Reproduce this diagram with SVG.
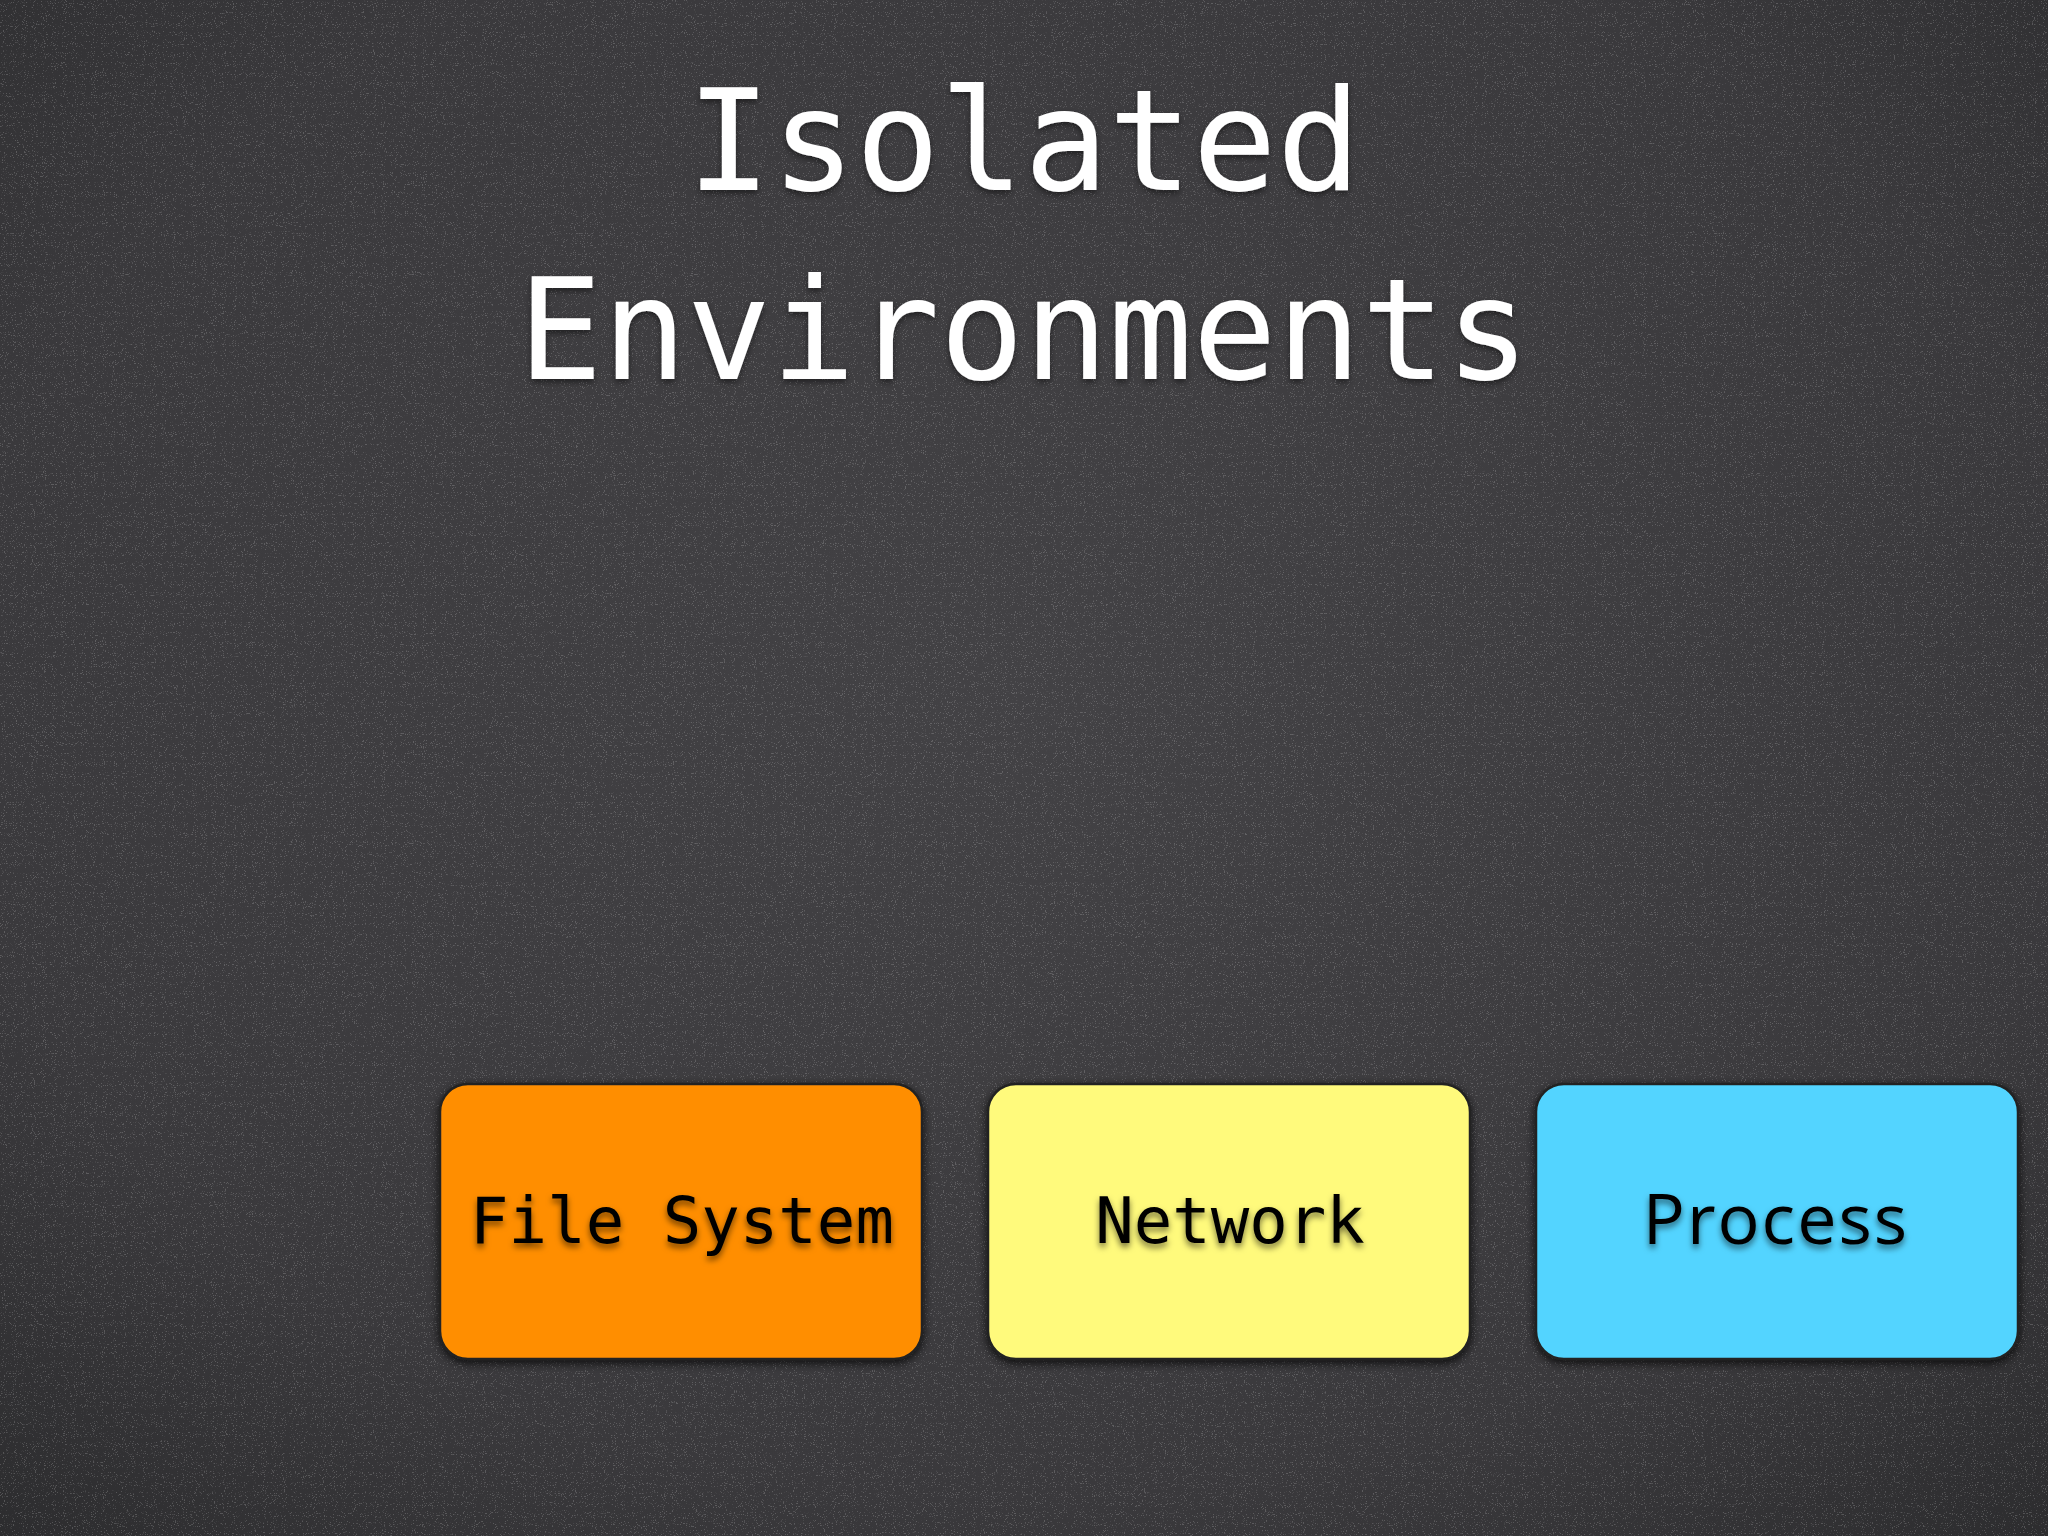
<svg xmlns="http://www.w3.org/2000/svg" width="2048" height="1536" viewBox="0 0 2048 1536">
  <defs>
    <radialGradient id="bg" cx="50%" cy="45%" r="75%">
      <stop offset="0" stop-color="#434245"/>
      <stop offset="0.7" stop-color="#3a393c"/>
      <stop offset="1" stop-color="#2c2c2e"/>
    </radialGradient>
    <filter id="grain" x="0" y="0" width="100%" height="100%">
      <feTurbulence type="fractalNoise" baseFrequency="0.9" numOctaves="2" seed="7" result="n"/>
      <feColorMatrix in="n" type="matrix" values="0 0 0 0 1  0 0 0 0 1  0 0 0 0 1  0 0 0 9 -5.6"/>
    </filter>
    <filter id="boxShadow" x="-10%" y="-10%" width="120%" height="125%">
      <feDropShadow dx="0" dy="3" stdDeviation="5" flood-color="#000" flood-opacity="0.8"/>
    </filter>
    <filter id="textShadow" x="-5%" y="-20%" width="110%" height="150%">
      <feDropShadow dx="0" dy="4" stdDeviation="3" flood-color="#000" flood-opacity="0.55"/>
    </filter>
    <filter id="titleShadow" x="-5%" y="-20%" width="110%" height="150%">
      <feDropShadow dx="0" dy="3" stdDeviation="3" flood-color="#000" flood-opacity="0.5"/>
    </filter>
  </defs>
  <style>
    .title { font-family: "DejaVu Sans Mono", "Liberation Mono", monospace; font-size: 140px; fill: #ffffff; text-anchor: middle; }
    .box { stroke: #222222; stroke-width: 2.5; }
    .label { font-family: "DejaVu Sans Mono", "Liberation Mono", monospace; font-size: 64px; fill: #000000; text-anchor: middle; }
    .label2 { font-family: "Open Sans", "Noto Sans", sans-serif; font-size: 70px; font-weight: 500; fill: #000000; text-anchor: middle; letter-spacing: 2px; }
  </style>
  <rect width="2048" height="1536" fill="url(#bg)"/>
  <rect width="2048" height="1536" filter="url(#grain)" opacity="0.18"/>

  <g id="title" filter="url(#titleShadow)">
    <text class="title" x="1024" y="190">Isolated</text>
    <text class="title" x="1024" y="379">Environments</text>
  </g>

  <g id="node-filesystem">
    <rect class="box" x="440" y="1084" width="482" height="275" rx="28" fill="#ff8e00" filter="url(#boxShadow)"/>
    <text class="label" x="682" y="1243" filter="url(#textShadow)">File System</text>
  </g>
  <g id="node-network">
    <rect class="box" x="988" y="1084" width="482" height="275" rx="28" fill="#fffa7c" filter="url(#boxShadow)"/>
    <text class="label" x="1230" y="1243" filter="url(#textShadow)">Network</text>
  </g>
  <g id="node-process">
    <rect class="box" x="1536" y="1084" width="482" height="275" rx="28" fill="#52d4ff" filter="url(#boxShadow)"/>
    <text class="label2" x="1776" y="1244" filter="url(#textShadow)">Process</text>
  </g>
  <g id="connectors"/>
</svg>
